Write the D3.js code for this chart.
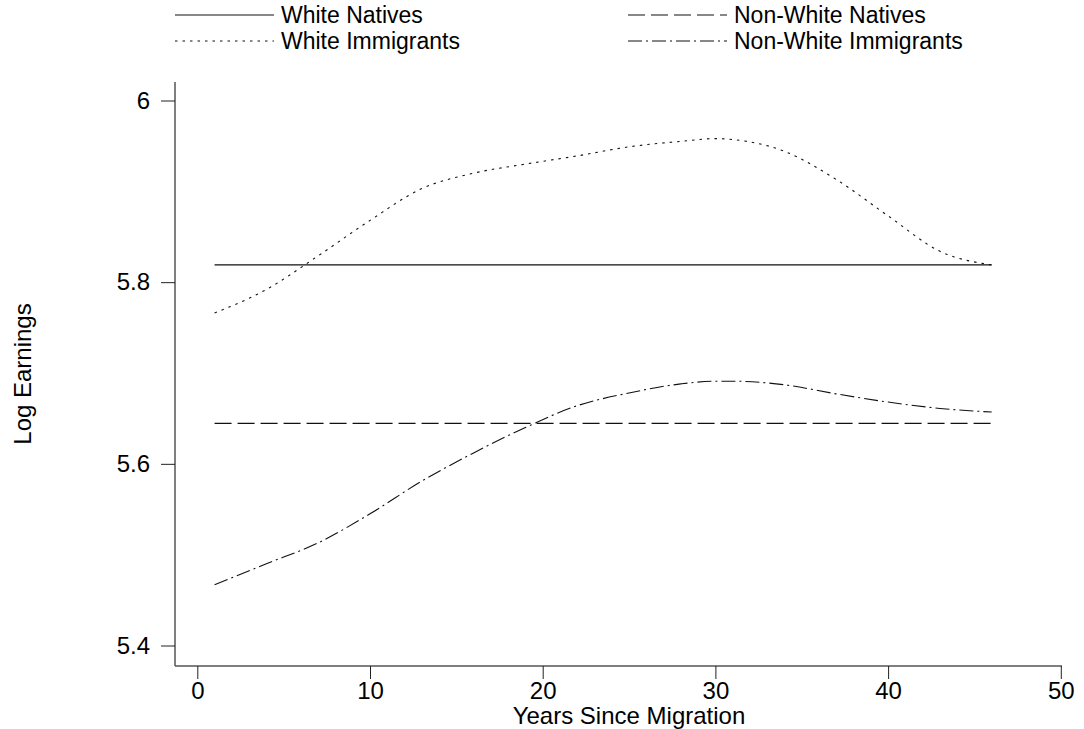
<!DOCTYPE html>
<html>
<head>
<meta charset="utf-8">
<script src="https://cdn.jsdelivr.net/npm/d3@7"></script>
<style>
  body { margin: 0; background: #fff; }
  text { font-family: "Liberation Sans", Arial, sans-serif; fill: #000; }
</style>
</head>
<body>
<div id="chart"></div>
<script>
// years since migration at which the curves were read
const years = [1, 4, 7, 10, 13, 16, 19, 22, 25, 28, 30, 31, 34, 37, 40, 43, 46];

const whiteNatives       = [5.819, 5.819, 5.819, 5.819, 5.819, 5.819, 5.819, 5.819, 5.819, 5.819, 5.819, 5.819, 5.819, 5.819, 5.819, 5.819, 5.819];
const nonWhiteNatives    = [5.6445, 5.6445, 5.6445, 5.6445, 5.6445, 5.6445, 5.6445, 5.6445, 5.6445, 5.6445, 5.6445, 5.6445, 5.6445, 5.6445, 5.6445, 5.6445, 5.6445];
const whiteImmigrants    = [5.766, 5.792, 5.829, 5.868, 5.903, 5.920, 5.930, 5.939, 5.949, 5.955, 5.958, 5.957, 5.944, 5.913, 5.873, 5.834, 5.819];
const nonWhiteImmigrants = [5.467, 5.490, 5.513, 5.545, 5.581, 5.612, 5.640, 5.664, 5.678, 5.688, 5.691, 5.691, 5.687, 5.677, 5.668, 5.661, 5.657];

const seriesNames = ["White Natives", "Non-White Natives", "White Immigrants", "Non-White Immigrants"];
const xTicks = [0, 10, 20, 30, 40, 50];
const yTicks = [5.4, 5.6, 5.8, 6];

const width = 1084, height = 729;
const fontSize = "24px";

const svg = d3.select("#chart")
  .append("svg")
  .attr("width", width)
  .attr("height", height);

const x = d3.scaleLinear().domain([0, 50]).range([197.3, 1060.8]);
const y = d3.scaleLinear().domain([5.4, 6]).range([645.5, 100.5]);

const axisColor = "#555";

// axis lines (the frame sticks out past the end ticks, Stata style)
svg.append("line")
  .attr("x1", 175).attr("x2", 175)
  .attr("y1", 82).attr("y2", 666)
  .attr("stroke", axisColor).attr("stroke-width", 1.5);
svg.append("line")
  .attr("x1", 175).attr("x2", 1062)
  .attr("y1", 666).attr("y2", 666)
  .attr("stroke", axisColor).attr("stroke-width", 1.5);

const xAxis = svg.append("g")
  .attr("transform", "translate(0,666)")
  .call(d3.axisBottom(x).tickValues(xTicks).tickFormat(d3.format("d")).tickSize(13).tickPadding(3));
xAxis.select(".domain").remove();
xAxis.selectAll(".tick line").attr("stroke", "#222");
xAxis.selectAll("text").style("font-size", fontSize).attr("fill", "#000");

const yAxis = svg.append("g")
  .attr("transform", "translate(175,0)")
  .call(d3.axisLeft(y).tickValues(yTicks).tickFormat(d => d === 6 ? "6" : d3.format(".1f")(d)).tickSize(14).tickPadding(11));
yAxis.select(".domain").remove();
yAxis.selectAll(".tick line").attr("stroke", "#222");
yAxis.selectAll("text").style("font-size", fontSize).attr("fill", "#000");

// axis titles
svg.append("text")
  .attr("x", 629)
  .attr("y", 724)
  .attr("text-anchor", "middle")
  .style("font-size", fontSize)
  .text("Years Since Migration");

svg.append("text")
  .attr("transform", "translate(31,374) rotate(-90)")
  .attr("text-anchor", "middle")
  .style("font-size", fontSize)
  .text("Log Earnings");

// series
const dashes = ["none", "17,6", "2.5,5", "14,4,2,4"];
const seriesData = [whiteNatives, nonWhiteNatives, whiteImmigrants, nonWhiteImmigrants];

const line = d3.line()
  .x(d => x(d[0]))
  .y(d => y(d[1]))
  .curve(d3.curveMonotoneX);

seriesData.forEach((vals, i) => {
  svg.append("path")
    .datum(years.map((yr, j) => [yr, vals[j]]))
    .attr("d", line)
    .attr("fill", "none")
    .attr("stroke", "#111")
    .attr("stroke-width", 1.1)
    .attr("stroke-dasharray", dashes[i]);
});

// legend, two columns by two rows
const legendCols = [175, 628];
const legendRows = [15, 41];
const keyLen = 99;

seriesNames.forEach((name, i) => {
  const lx = legendCols[i % 2], ly = legendRows[Math.floor(i / 2)];
  svg.append("line")
    .attr("x1", lx).attr("x2", lx + keyLen)
    .attr("y1", ly).attr("y2", ly)
    .attr("stroke", "#111")
    .attr("stroke-width", 1.1)
    .attr("stroke-dasharray", dashes[i]);
  svg.append("text")
    .attr("x", lx + keyLen + 7)
    .attr("y", ly + 8)
    .style("font-size", "23px")
    .text(name);
});
</script>
</body>
</html>
